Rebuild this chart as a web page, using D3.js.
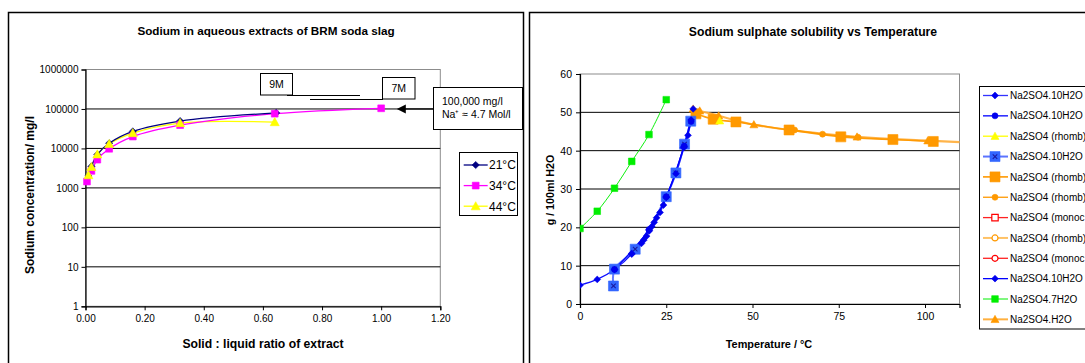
<!DOCTYPE html>
<html><head><meta charset="utf-8">
<script src="https://cdn.jsdelivr.net/npm/d3@7"></script>
<style>
html,body{margin:0;padding:0;background:#fff;overflow:hidden}
svg{display:block;font-family:Arial,"Liberation Sans",sans-serif}
</style></head>
<body>
<svg id="c" width="1085" height="363"></svg>
<script>
// ---------- Left chart data ----------
const leftTitle = "Sodium in aqueous extracts of BRM soda slag";
const leftXTicks = [0,0.2,0.4,0.6,0.8,1.0,1.2];
const leftYTicks = [1,10,100,1000,10000,100000,1000000];
const ratio21 = [0.01,0.02,0.04,0.08,0.16,0.32,0.645];
const sodium21 = [2000,3500,7000,13500,27000,49500,79500];
const ratio34 = [0.005,0.02,0.04,0.08,0.16,0.32,0.64,1.0];
const sodium34 = [1450,2700,5200,9800,20000,39000,76000,104000];
const ratio44 = [0.01,0.02,0.04,0.08,0.16,0.32,0.64];
const sodium44 = [2100,3400,7100,13000,24500,44000,46500];
const leftLegend = ["21°C","34°C","44°C"];

// ---------- Right chart data ----------
const rightTitle = "Sodium sulphate solubility vs Temperature";
const rightXTicks = [0,25,50,75,100];
const rightYTicks = [0,10,20,30,40,50,60];
const s1T = [15,17.8,18.5,19.3,20.1,20.8,21.5,22.2,23.2,24.2,25,27.8,30.2,31.3,32.2];
const s1V = [13.2,15.8,16.7,17.7,19.1,20.2,21.3,22.5,23.9,25.8,27.9,34.0,41.0,44.0,48.0];
const s2T = [10,20,25,30.2,32.2];
const s2V = [9.0,19.4,28.0,41.2,47.6];
const s3T = [40.5];
const s3V = [47.8];
const s4T = [9.7,10,16,25,27.8,30.3,32.1];
const s4V = [4.7,9.1,14.3,28.0,34.2,41.7,47.7];
const s5T = [33.6,38.6,45.2,60.6,75.6,90.7,102.4];
const s5V = [49.6,48.2,47.5,45.4,43.6,42.9,42.4];
const s6T = [62.2,70.3,80.6];
const s6V = [45.4,44.3,43.5];
const s7T = [], s7V = [];
const s8T = [], s8V = [];
const s9T = [], s9V = [];
const s10T = [0,5,10,15,20,25,30,32.8];
const s10V = [4.9,6.4,9.0,13.0,19.3,27.8,40.8,50.9];
const s11T = [0,5,10,15,20,25];
const s11V = [19.7,24.2,30.2,37.2,44.2,53.3];
const s12T = [32.8,34.7,40.2,50.4,80.3,100.8,120];
const s12V = [50.9,50.4,49.1,46.8,43.6,42.6,41.9];
const rightNames = ["Na2SO4.10H2O","Na2SO4.10H2O","Na2SO4 (rhomb)","Na2SO4.10H2O","Na2SO4 (rhomb)","Na2SO4 (rhomb)","Na2SO4 (monoc","Na2SO4 (rhomb)","Na2SO4 (monoc","Na2SO4.10H2O","Na2SO4.7H2O","Na2SO4.H2O"];

// ---------- helpers ----------
const svg = d3.select("#c");
function markerPath(shape, s){
  switch(shape){
    case "diamond": return `M0,${-s}L${s},0L0,${s}L${-s},0Z`;
    case "square": case "squareX": case "hsquare": return `M${-s},${-s}H${s}V${s}H${-s}Z`;
    case "triangle": return `M0,${-s}L${s},${s*0.8}L${-s},${s*0.8}Z`;
    case "circle": case "hcircle": return `M${s},0A${s},${s} 0 1,1 ${-s},0A${s},${s} 0 1,1 ${s},0Z`;
  }
}
function drawMarker(g, shape, s, fill, stroke, x, y){
  const m = g.append("g").attr("transform",`translate(${x},${y})`);
  const hollow = shape==="hsquare"||shape==="hcircle";
  m.append("path").attr("d", markerPath(shape,s))
    .attr("fill", hollow ? "#fff" : fill)
    .attr("stroke", stroke).attr("stroke-width", hollow?1.2:0.6);
  if(shape==="squareX"){
    const k=s*0.45;
    m.append("path").attr("d",`M${-k},${-k}L${k},${k}M${k},${-k}L${-k},${k}`)
      .attr("stroke","#1a1aa0").attr("stroke-width",1.1);
  }
}

// ---------- panels ----------
svg.append("rect").attr("x",8.5).attr("y",12.5).attr("width",515).attr("height",370)
  .attr("fill","#fff").attr("stroke","#000").attr("stroke-width",1.5);
svg.append("rect").attr("x",529.5).attr("y",12.5).attr("width",570).attr("height",370)
  .attr("fill","#fff").attr("stroke","#000").attr("stroke-width",1.5);

// ================= LEFT CHART =================
const lx = d3.scaleLinear().domain([0,1.2]).range([85.5,440.3]);
const ly = d3.scaleLog().domain([1,1000000]).range([306.3,69.5]);
const L = svg.append("g");
L.append("rect").attr("x",lx(0)).attr("y",ly(1e6)).attr("width",lx(1.2)-lx(0)).attr("height",ly(1)-ly(1e6))
  .attr("fill","#fff").attr("stroke","#8c8c8c").attr("stroke-width",1);
L.selectAll("line.grid").data(leftYTicks.slice(1,-1)).join("line")
  .attr("x1",lx(0)).attr("x2",lx(1.2)).attr("y1",d=>ly(d)).attr("y2",d=>ly(d))
  .attr("stroke","#000").attr("stroke-width",1);
const lxAxis = d3.axisBottom(lx).tickValues(leftXTicks).tickFormat(d3.format(".2f")).tickSizeOuter(0).tickSize(4).tickPadding(5);
const lyAxis = d3.axisLeft(ly).tickValues(leftYTicks).tickFormat(d3.format("d")).tickSizeOuter(0).tickSize(4).tickPadding(3);
const gx = L.append("g").attr("transform",`translate(0,${ly(1)})`).call(lxAxis);
const gy = L.append("g").attr("transform",`translate(${lx(0)},0)`).call(lyAxis);
[gx,gy].forEach(g=>{g.select(".domain").attr("stroke","#000").attr("stroke-width",1.2);
  g.selectAll(".tick line").attr("stroke","#000");
  g.selectAll("text").attr("font-size",10).attr("fill","#000").attr("font-family","Arial, Liberation Sans");});

L.append("text").attr("x",266).attr("y",35).attr("text-anchor","middle").attr("font-weight","bold").attr("font-size",11.7).text(leftTitle);
L.append("text").attr("x",263).attr("y",348).attr("text-anchor","middle").attr("font-weight","bold").attr("font-size",12.2).text("Solid : liquid ratio of extract");
L.append("text").attr("transform","translate(33.5,195) rotate(-90)").attr("text-anchor","middle").attr("font-weight","bold").attr("font-size",12).text("Sodium concentration/ mg/l");

const leftSeries = [
  {x:ratio21,y:sodium21,color:"#000080",shape:"diamond",s:3.6},
  {x:ratio34,y:sodium34,color:"#ff00ff",shape:"square",s:3.4},
  {x:ratio44,y:sodium44,color:"#ffff00",shape:"triangle",s:4.5}
];
const lline = d3.line().curve(d3.curveCatmullRom.alpha(0.5));
[2,1,0].forEach(i=>{
  const s=leftSeries[i];
  L.append("path").attr("d",lline(s.x.map((v,j)=>[lx(v),ly(s.y[j])])))
    .attr("fill","none").attr("stroke",s.color).attr("stroke-width",1.3);
});
[0,1,2].forEach(i=>{
  const s=leftSeries[i];
  s.x.forEach((v,j)=>drawMarker(L,s.shape,s.s,s.color,s.color,lx(v),ly(s.y[j])));
});

// annotations
function box(g,x,y,w,h){g.append("rect").attr("x",x).attr("y",y).attr("width",w).attr("height",h).attr("fill","#fff").attr("stroke","#000").attr("stroke-width",1);}
box(L,260.5,73.5,32,21.5);
L.append("text").attr("x",276.5).attr("y",88).attr("text-anchor","middle").attr("font-size",10.5).text("9M");
box(L,382.5,77.5,32.5,21.5);
L.append("text").attr("x",398.7).attr("y",92).attr("text-anchor","middle").attr("font-size",10.5).text("7M");
L.append("line").attr("x1",287).attr("x2",360).attr("y1",95.5).attr("y2",95.5).attr("stroke","#000");
L.append("line").attr("x1",310).attr("x2",383).attr("y1",99.5).attr("y2",99.5).attr("stroke","#000");
L.append("line").attr("x1",lx(1.18)).attr("x2",lx(1.075)).attr("y1",ly(100000)).attr("y2",ly(100000)).attr("stroke","#000").attr("stroke-width",1.2);
L.append("path").attr("d",`M${lx(1.053)},${ly(100000)}l9,-4.5v9Z`).attr("fill","#000");
box(L,433.5,87.5,89,42);
L.append("text").attr("x",442).attr("y",104.5).attr("font-size",10.5).text("100,000 mg/l");
L.append("text").attr("x",442).attr("y",117.5).attr("font-size",10.5).text("Na⁺ ≈ 4.7 Mol/l");

// left legend
const LL = L.append("g");
LL.append("rect").attr("x",459.5).attr("y",152.5).attr("width",58).attr("height",63).attr("fill","#fff").attr("stroke","#000");
leftLegend.forEach((name,i)=>{
  const y = 165 + i*20.6, s=leftSeries[i];
  LL.append("line").attr("x1",463.7).attr("x2",487.7).attr("y1",y).attr("y2",y).attr("stroke",s.color).attr("stroke-width",1.3);
  drawMarker(LL,s.shape,s.s,s.color,s.color,475.7,y);
  LL.append("text").attr("x",489).attr("y",y+4.3).attr("font-size",12).text(name);
});

// ================= RIGHT CHART =================
const rx = d3.scaleLinear().domain([0,110]).range([580,959.5]);
const ry = d3.scaleLinear().domain([0,60]).range([304,74]);
const R = svg.append("g");
R.append("rect").attr("x",rx(0)).attr("y",ry(60)).attr("width",rx(110)-rx(0)).attr("height",ry(0)-ry(60))
  .attr("fill","#fff").attr("stroke","#8c8c8c").attr("stroke-width",1);
R.selectAll("line.grid").data(rightYTicks.slice(1,-1)).join("line")
  .attr("x1",rx(0)).attr("x2",rx(110)).attr("y1",d=>ry(d)).attr("y2",d=>ry(d))
  .attr("stroke","#000").attr("stroke-width",1);
const rxAxis = d3.axisBottom(rx).tickValues(rightXTicks).tickFormat(d3.format("d")).tickSizeOuter(0).tickSize(4).tickPadding(5);
const ryAxis = d3.axisLeft(ry).tickValues(rightYTicks).tickFormat(d3.format("d")).tickSizeOuter(0).tickSize(4).tickPadding(4);
const rgx = R.append("g").attr("transform",`translate(0,${ry(0)})`).call(rxAxis);
const rgy = R.append("g").attr("transform",`translate(${rx(0)},0)`).call(ryAxis);
[rgx,rgy].forEach(g=>{g.select(".domain").attr("stroke","#000").attr("stroke-width",1.2);
  g.selectAll(".tick line").attr("stroke","#000");
  g.selectAll("text").attr("font-size",10.5).attr("fill","#000").attr("font-family","Arial, Liberation Sans");});

R.append("text").attr("x",813).attr("y",36).attr("text-anchor","middle").attr("font-weight","bold").attr("font-size",12.2).text(rightTitle);
R.append("text").attr("x",769).attr("y",347.5).attr("text-anchor","middle").attr("font-weight","bold").attr("font-size",10.9).text("Temperature / °C");
R.append("text").attr("transform","translate(554,190) rotate(-90)").attr("text-anchor","middle").attr("font-weight","bold").attr("font-size",10.7).text("g / 100ml H2O");

R.append("clipPath").attr("id","rclip").append("rect").attr("x",rx(0)).attr("y",ry(60)-8).attr("width",rx(110)-rx(0)).attr("height",ry(0)-ry(60)+16);

const rightSeries = [
  {t:s1T,v:s1V,line:"#3333ff",lw:1.3,shape:"diamond",s:3.4,fill:"#0000ee",stroke:"#0000ee"},
  {t:s2T,v:s2V,line:"#0000ff",lw:1.3,shape:"circle",s:3,fill:"#0000ee",stroke:"#0000ee"},
  {t:s3T,v:s3V,line:"#ffff00",lw:1.3,shape:"triangle",s:4,fill:"#ffff00",stroke:"#ffff00"},
  {t:s4T,v:s4V,line:"#5c74ff",lw:2,shape:"squareX",s:5,fill:"#3366ff",stroke:"#3366ff"},
  {t:s5T,v:s5V,line:"#ff9900",lw:1.6,shape:"square",s:5,fill:"#ff9900",stroke:"#ff9900"},
  {t:s6T,v:s6V,line:"#ff9900",lw:1.3,shape:"circle",s:3,fill:"#ff9900",stroke:"#ff9900"},
  {t:s7T,v:s7V,line:"#ff2222",lw:1.3,shape:"hsquare",s:3.2,fill:"#fff",stroke:"#ff0000"},
  {t:s8T,v:s8V,line:"#ffc266",lw:2,shape:"hcircle",s:3,fill:"#fff",stroke:"#ff9900"},
  {t:s9T,v:s9V,line:"#ff2222",lw:1.3,shape:"hcircle",s:3,fill:"#fff",stroke:"#ff0000"},
  {t:s10T,v:s10V,line:"#0000ff",lw:1.3,shape:"diamond",s:3.4,fill:"#0000ee",stroke:"#0000ee"},
  {t:s11T,v:s11V,line:"#00ee00",lw:1,shape:"square",s:3.3,fill:"#00ee00",stroke:"#00ee00"},
  {t:s12T,v:s12V,line:"#ffb040",lw:2.2,shape:"triangle",s:4,fill:"#ff9900",stroke:"#ff9900"}
];
const RP = R.append("g").attr("clip-path","url(#rclip)");
const rline = d3.line().curve(d3.curveCatmullRom.alpha(0.5));
const order = [11,7,5,4,2,10,3,0,1,9,6,8];
order.forEach(i=>{
  const s=rightSeries[i];
  if(s.t.length>1) RP.append("path").attr("d",rline(s.t.map((t,j)=>[rx(t),ry(s.v[j])])))
    .attr("fill","none").attr("stroke",s.line).attr("stroke-width",s.lw).attr("stroke-opacity",0.95);
});
order.forEach(i=>{
  const s=rightSeries[i];
  s.t.forEach((t,j)=>drawMarker(RP,s.shape,s.s,s.fill,s.stroke,rx(t),ry(s.v[j])));
});

// right legend
const RL = R.append("g");
RL.append("rect").attr("x",979.5).attr("y",86.5).attr("width",130).attr("height",242.5).attr("fill","#fff").attr("stroke","#000");
rightNames.forEach((name,i)=>{
  const y = 95.5 + i*20.35, s=rightSeries[i];
  RL.append("line").attr("x1",983).attr("x2",1008).attr("y1",y).attr("y2",y).attr("stroke",s.line).attr("stroke-width",Math.min(s.lw,2));
  drawMarker(RL,s.shape,s.s,s.fill,s.stroke,995,y);
  RL.append("text").attr("x",1010).attr("y",y+3.6).attr("font-size",10).text(name);
});
</script>
</body></html>
